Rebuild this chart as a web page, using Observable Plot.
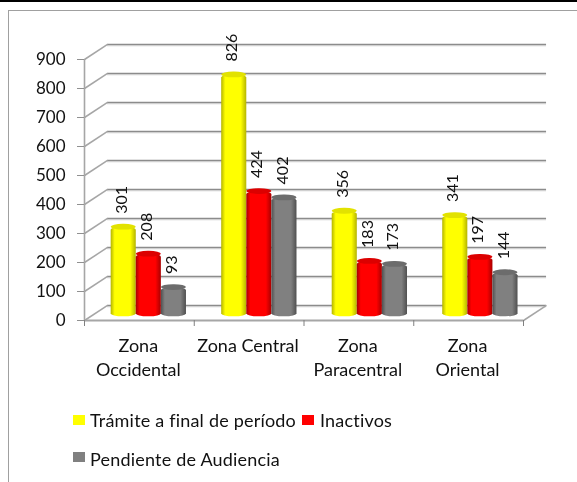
<!DOCTYPE html>
<html>
<head>
<meta charset="utf-8">
<script src="https://cdn.jsdelivr.net/npm/d3@7"></script>
<script src="https://cdn.jsdelivr.net/npm/@observablehq/plot@0.6"></script>
<style>
html,body{margin:0;padding:0;background:#fff;overflow:hidden}
#page{position:relative;width:577px;height:482px;font-family:Lato,sans-serif;color:#111}
#black{position:absolute;left:0;top:0;width:577px;height:2px;background:#000}
#frame{position:absolute;left:8px;top:10px;width:569px;height:472px;border-left:1px solid #a0a0a0;border-top:1px solid #a0a0a0;box-sizing:border-box}
#chart{position:absolute;left:0;top:0}
#chart svg{filter:blur(.35px)}
.leg{position:absolute;font-size:18px;line-height:22px;letter-spacing:.2px;white-space:nowrap;filter:blur(.25px)}
.sw{position:absolute;width:12px;height:10px}
</style>
</head>
<body>
<div id="page">
<div id="black"></div><div id="frame"></div>
<div id="chart"></div>
<div id="legend"></div>
</div>
<script>
const zones = ["Zona\nOccidental", "Zona Central", "Zona\nParacentral", "Zona\nOriental"];
const seriesNames = ["Trámite a final de período", "Inactivos", "Pendiente de Audiencia"];
const tramite = [301, 826, 356, 341];
const inactivos = [208, 424, 183, 197];
const pendiente = [93, 402, 173, 144];
const yTicks = [0, 100, 200, 300, 400, 500, 600, 700, 800, 900];
const xTicks = [0, 1, 2, 3, 4];

const seriesValues = [tramite, inactivos, pendiente];
const palette = [
  {edge: "#b4b400", mid: "#ffff00", cap: "#e2e200"},
  {edge: "#a80000", mid: "#ff0000", cap: "#dc0000"},
  {edge: "#505050", mid: "#808080", cap: "#6c6c6c"}
];
const depthX = 0.21, depthY = 52;
const groupPad = 0.243, groupStep = 1.007, barW = 0.2287, planeDy = -6;

const rows = seriesValues.map((vals, s) => vals.map((v, z) => ({
  v, s, x1: z * groupStep + groupPad + s * barW, x2: z * groupStep + groupPad + (s + 1) * barW
})));

const defs = () => {
  const svg = d3.create("svg:g");
  const d = svg.append("defs");
  palette.forEach((p, i) => {
    const g = d.append("linearGradient").attr("id", "cyl" + i);
    [[0, p.edge], [0.16, p.mid], [0.78, p.mid], [1, p.edge]].forEach(([o, c]) =>
      g.append("stop").attr("offset", o).attr("stop-color", c));
  });
  return svg.node();
};

const gridColor = "#8c8c8c";
const plot = Plot.plot({
  width: 577, height: 385,
  marginLeft: 84, marginRight: 54, marginTop: 59, marginBottom: 65,
  style: {background: "transparent", fontFamily: "Lato, sans-serif", color: "#111"},
  x: {domain: [0, 4], axis: null},
  y: {domain: [0, 900], axis: null},
  marks: [
    defs,
    Plot.ruleY(yTicks, {y: d => d + depthY, x1: depthX, x2: 4 + depthX, stroke: "#d0d0d0", strokeWidth: 1.5, dy: 1.2}),
    Plot.ruleY(yTicks, {y: d => d + depthY, x1: depthX, x2: 4 + depthX, stroke: gridColor, strokeWidth: 1.3}),
    Plot.link(yTicks, {x1: 0, y1: d => d, x2: depthX, y2: d => d + depthY, stroke: "#a6a6a6", strokeWidth: 1.5}),
    Plot.link([4], {x1: d => d, y1: 0, x2: d => d + depthX, y2: depthY, stroke: "#a6a6a6", strokeWidth: 1.5}),
    Plot.ruleX([0], {y1: 0, y2: 900, stroke: "#a6a6a6", strokeWidth: 1.6}),
    Plot.ruleY([0], {x1: 0, x2: 4, stroke: "#a6a6a6", strokeWidth: 2}),
    Plot.axisY({ticks: yTicks, anchor: "left", tickSize: 7, tickPadding: 12, stroke: "#909090", fill: "#111", fontSize: 17, label: null}),
    Plot.axisX({ticks: xTicks, anchor: "bottom", tickSize: 6, stroke: "#808080", tickFormat: () => "", label: null}),
    ...rows.map((data, s) => Plot.rect(data, {
      x1: "x1", x2: "x2", y1: -8, y2: "v", fill: `url(#cyl${s})`, rx: 12, ry: 3, dy: planeDy
    })),
    ...rows.map((data, s) => Plot.rect(data, {
      x1: "x1", x2: "x2", y1: d => d.v - 10, y2: d => d.v + 10, fill: palette[s].cap, rx: 12, ry: 3, dy: planeDy
    })),
    ...rows.map(data => Plot.text(data, {
      x: d => (d.x1 + d.x2) / 2, y: "v", text: d => String(d.v), rotate: -90,
      textAnchor: "start", dx: -2, dy: -19.5, fontSize: 16, fill: "#111"
    })),
    Plot.text(zones, {
      x: (d, i) => i + 0.49, y: 0, text: d => d, lineAnchor: "top", dy: 14,
      lineHeight: 1.333, fontSize: 18, fill: "#111", textAnchor: "middle"
    })
  ]
});
document.getElementById("chart").appendChild(plot);

const legend = document.getElementById("legend");
const legendPlaces = [
  {sw: [73, 415], tx: [90, 409]},
  {sw: [302, 415], tx: [320, 409]},
  {sw: [73, 452], tx: [90, 448]}
];
seriesNames.forEach((name, i) => {
  const p = legendPlaces[i];
  const sw = document.createElement("div");
  sw.className = "sw";
  sw.style.cssText = `left:${p.sw[0]}px;top:${p.sw[1]}px;background:${["#ffff00","#ff0000","#808080"][i]}`;
  const t = document.createElement("div");
  t.className = "leg";
  t.style.cssText = `left:${p.tx[0]}px;top:${p.tx[1]}px`;
  t.textContent = name;
  legend.append(sw, t);
});
</script>
</body>
</html>
